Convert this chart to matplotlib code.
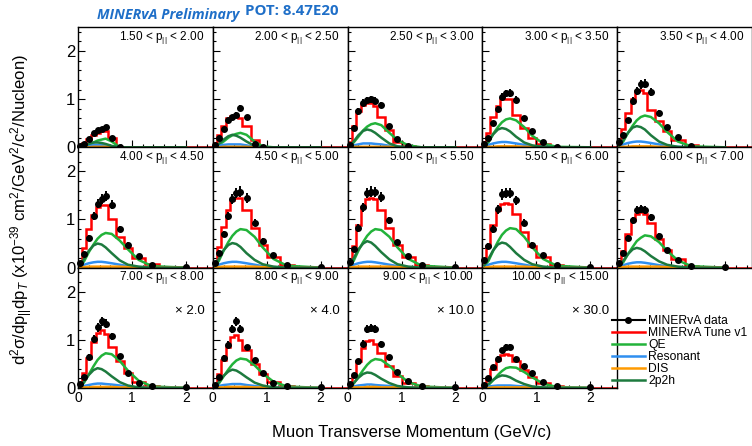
import matplotlib
matplotlib.use('Agg')
import matplotlib.pyplot as plt
from matplotlib.lines import Line2D
from matplotlib.ticker import MultipleLocator
import numpy as np

nan = np.nan

# muon pT bin edges (GeV/c)
pt_edges = [0, 0.075, 0.15, 0.25, 0.325, 0.4, 0.475, 0.55, 0.7, 0.85, 1.0, 1.25, 1.5, 2.5]

pz_labels = ["1.50", "2.00", "2.50", "3.00", "3.50", "4.00", "4.50", "5.00",
             "5.50", "6.00", "7.00", "8.00", "9.00", "10.00", "15.00"]
scale_labels = ["", "", "", "", "", "", "", "", "", "", "2.0", "4.0", "10.0", "30.0"]

data_vals = [
    [0.02, 0.07, 0.18, 0.29, 0.36, 0.38, 0.42, 0.20, 0.00, nan, nan, nan, nan],
    [0.04, 0.19, 0.38, 0.57, 0.63, 0.68, 0.82, 0.62, 0.06, 0.00, nan, nan, nan],
    [0.05, 0.40, 0.75, 0.93, 0.98, 1.00, 0.97, 0.88, 0.45, 0.18, 0.02, nan, nan],
    [0.07, 0.20, 0.50, 0.80, 1.05, 1.12, 1.13, 0.99, 0.60, 0.34, 0.12, 0.00, nan],
    [0.10, 0.26, 0.56, 0.96, 1.17, 1.31, 1.32, 1.15, 0.72, 0.42, 0.21, 0.03, nan],
    [0.10, 0.29, 0.62, 1.07, 1.33, 1.42, 1.49, 1.31, 0.81, 0.48, 0.24, 0.06, 0.02],
    [0.10, 0.31, 0.70, 1.07, 1.42, 1.55, 1.58, 1.45, 0.93, 0.55, 0.26, 0.06, 0.02],
    [0.12, 0.38, 0.82, 1.25, 1.55, 1.58, 1.57, 1.46, 0.98, 0.53, 0.24, 0.05, 0.02],
    [0.15, 0.45, 0.80, 1.21, 1.52, 1.55, 1.55, 1.40, 0.93, 0.48, 0.26, 0.06, 0.02],
    [0.10, 0.30, 0.62, 0.98, 1.19, 1.22, 1.20, 1.05, 0.66, 0.36, 0.16, 0.03, 0.02],
    [0.08, 0.23, 0.64, 1.01, 1.26, 1.38, 1.33, 1.07, 0.66, 0.31, 0.11, 0.03, 0.01],
    [0.06, 0.22, 0.62, 0.90, 1.22, 1.38, 1.22, 0.84, 0.57, 0.30, 0.10, 0.03, 0.01],
    [0.08, 0.27, 0.55, 0.92, 1.23, 1.25, 1.23, 0.92, 0.64, 0.33, 0.15, 0.03, 0.01],
    [0.05, 0.20, 0.43, 0.61, 0.78, 0.85, 0.86, 0.60, 0.45, 0.30, 0.12, 0.03, 0.01],
]

# relative data uncertainty per pT bin
rel_err = [0.30, 0.15, 0.10, 0.08, 0.07, 0.07, 0.07, 0.07, 0.08, 0.10, 0.15, 0.30, 0.50]

tune_vals = [
    [0.03, 0.08, 0.17, 0.26, 0.30, 0.33, 0.33, 0.20, 0.00, 0, 0, 0, 0],
    [0.08, 0.25, 0.45, 0.60, 0.65, 0.65, 0.60, 0.45, 0.15, 0.01, 0, 0, 0],
    [0.10, 0.45, 0.75, 0.88, 0.92, 0.92, 0.85, 0.62, 0.35, 0.12, 0.03, 0, 0],
    [0.10, 0.30, 0.62, 0.85, 1.00, 1.00, 1.00, 0.68, 0.40, 0.20, 0.06, 0.01, 0],
    [0.12, 0.38, 0.72, 1.00, 1.17, 1.20, 1.12, 0.78, 0.55, 0.33, 0.15, 0.04, 0],
    [0.12, 0.40, 0.80, 1.10, 1.25, 1.30, 1.30, 1.00, 0.64, 0.40, 0.19, 0.07, 0],
    [0.12, 0.42, 0.85, 1.20, 1.40, 1.45, 1.45, 1.20, 0.82, 0.48, 0.22, 0.06, 0],
    [0.13, 0.45, 0.88, 1.25, 1.42, 1.45, 1.42, 1.20, 0.82, 0.48, 0.22, 0.06, 0],
    [0.13, 0.45, 0.88, 1.20, 1.33, 1.35, 1.33, 1.12, 0.75, 0.45, 0.22, 0.06, 0],
    [0.10, 0.35, 0.70, 0.98, 1.12, 1.16, 1.12, 0.92, 0.60, 0.36, 0.17, 0.04, 0],
    [0.08, 0.30, 0.62, 0.95, 1.15, 1.20, 1.12, 0.85, 0.55, 0.30, 0.12, 0.03, 0],
    [0.07, 0.28, 0.58, 0.85, 1.05, 1.10, 1.00, 0.78, 0.50, 0.28, 0.12, 0.03, 0],
    [0.07, 0.25, 0.55, 0.82, 0.98, 1.00, 0.92, 0.72, 0.45, 0.25, 0.10, 0.03, 0],
    [0.05, 0.20, 0.40, 0.58, 0.68, 0.70, 0.68, 0.55, 0.38, 0.22, 0.10, 0.03, 0],
]

qe_vals = [
    [0.00, 0.02, 0.06, 0.10, 0.14, 0.16, 0.18, 0.12, 0.00, 0, 0, 0, 0],
    [0.01, 0.05, 0.12, 0.20, 0.25, 0.28, 0.30, 0.26, 0.12, 0.02, 0, 0, 0],
    [0.02, 0.10, 0.22, 0.35, 0.43, 0.48, 0.50, 0.46, 0.30, 0.15, 0.04, 0, 0],
    [0.02, 0.10, 0.28, 0.42, 0.52, 0.58, 0.60, 0.56, 0.42, 0.24, 0.08, 0.01, 0],
    [0.03, 0.12, 0.30, 0.45, 0.56, 0.63, 0.66, 0.63, 0.50, 0.32, 0.12, 0.02, 0],
    [0.03, 0.13, 0.32, 0.48, 0.60, 0.68, 0.72, 0.70, 0.56, 0.38, 0.16, 0.03, 0],
    [0.03, 0.14, 0.35, 0.53, 0.66, 0.75, 0.80, 0.78, 0.64, 0.42, 0.18, 0.04, 0],
    [0.03, 0.14, 0.35, 0.53, 0.66, 0.75, 0.80, 0.78, 0.64, 0.42, 0.18, 0.04, 0],
    [0.03, 0.14, 0.35, 0.54, 0.68, 0.77, 0.82, 0.80, 0.64, 0.42, 0.18, 0.04, 0],
    [0.03, 0.11, 0.28, 0.43, 0.55, 0.62, 0.67, 0.65, 0.53, 0.35, 0.15, 0.03, 0],
    [0.02, 0.11, 0.28, 0.45, 0.58, 0.67, 0.72, 0.70, 0.56, 0.36, 0.15, 0.03, 0],
    [0.02, 0.09, 0.24, 0.38, 0.49, 0.57, 0.61, 0.59, 0.47, 0.30, 0.13, 0.03, 0],
    [0.02, 0.09, 0.23, 0.37, 0.48, 0.56, 0.60, 0.58, 0.46, 0.30, 0.12, 0.03, 0],
    [0.01, 0.06, 0.16, 0.27, 0.35, 0.41, 0.43, 0.42, 0.33, 0.22, 0.09, 0.02, 0],
]

res_vals = [
    [0.01, 0.03, 0.04, 0.05, 0.05, 0.05, 0.04, 0.02, 0.00, 0, 0, 0, 0],
    [0.01, 0.04, 0.05, 0.06, 0.06, 0.06, 0.06, 0.04, 0.01, 0, 0, 0, 0],
    [0.01, 0.04, 0.06, 0.08, 0.08, 0.08, 0.07, 0.06, 0.03, 0.01, 0, 0, 0],
    [0.02, 0.05, 0.08, 0.10, 0.11, 0.11, 0.10, 0.08, 0.05, 0.02, 0.01, 0, 0],
    [0.02, 0.06, 0.09, 0.11, 0.12, 0.12, 0.11, 0.09, 0.06, 0.03, 0.01, 0, 0],
    [0.02, 0.06, 0.09, 0.11, 0.12, 0.12, 0.11, 0.09, 0.06, 0.03, 0.01, 0, 0],
    [0.02, 0.06, 0.09, 0.11, 0.12, 0.12, 0.11, 0.09, 0.06, 0.03, 0.01, 0, 0],
    [0.02, 0.06, 0.09, 0.11, 0.12, 0.12, 0.11, 0.09, 0.06, 0.03, 0.01, 0, 0],
    [0.02, 0.06, 0.09, 0.11, 0.12, 0.12, 0.11, 0.09, 0.06, 0.03, 0.01, 0, 0],
    [0.02, 0.05, 0.08, 0.10, 0.11, 0.11, 0.10, 0.08, 0.05, 0.03, 0.01, 0, 0],
    [0.01, 0.04, 0.06, 0.08, 0.09, 0.09, 0.08, 0.07, 0.05, 0.02, 0.01, 0, 0],
    [0.01, 0.04, 0.06, 0.07, 0.08, 0.08, 0.08, 0.06, 0.04, 0.02, 0.01, 0, 0],
    [0.01, 0.03, 0.05, 0.06, 0.07, 0.07, 0.06, 0.05, 0.04, 0.02, 0.01, 0, 0],
    [0.01, 0.03, 0.04, 0.05, 0.05, 0.05, 0.05, 0.04, 0.03, 0.02, 0.01, 0, 0],
]

dis_vals = [
    [0.00, 0.00, 0.00, 0.01, 0.01, 0.01, 0.01, 0.00, 0.00, 0, 0, 0, 0],
    [0.00, 0.00, 0.01, 0.01, 0.01, 0.01, 0.01, 0.01, 0.00, 0, 0, 0, 0],
    [0.00, 0.01, 0.01, 0.01, 0.01, 0.01, 0.01, 0.01, 0.01, 0.00, 0, 0, 0],
    [0.00, 0.01, 0.01, 0.02, 0.02, 0.02, 0.02, 0.02, 0.01, 0.01, 0, 0, 0],
    [0.00, 0.01, 0.01, 0.02, 0.02, 0.02, 0.02, 0.02, 0.01, 0.01, 0, 0, 0],
    [0.00, 0.01, 0.02, 0.02, 0.02, 0.02, 0.02, 0.02, 0.02, 0.01, 0.01, 0, 0],
    [0.00, 0.01, 0.02, 0.02, 0.02, 0.02, 0.02, 0.02, 0.02, 0.01, 0.01, 0, 0],
    [0.00, 0.01, 0.02, 0.02, 0.02, 0.02, 0.02, 0.02, 0.02, 0.01, 0.01, 0, 0],
    [0.00, 0.01, 0.02, 0.02, 0.02, 0.02, 0.02, 0.02, 0.02, 0.01, 0.01, 0, 0],
    [0.00, 0.01, 0.02, 0.02, 0.02, 0.02, 0.02, 0.02, 0.02, 0.01, 0.01, 0, 0],
    [0.00, 0.01, 0.01, 0.02, 0.02, 0.02, 0.02, 0.02, 0.01, 0.01, 0.00, 0, 0],
    [0.00, 0.01, 0.01, 0.02, 0.02, 0.02, 0.02, 0.02, 0.01, 0.01, 0.00, 0, 0],
    [0.00, 0.01, 0.01, 0.01, 0.02, 0.02, 0.02, 0.01, 0.01, 0.01, 0.00, 0, 0],
    [0.00, 0.00, 0.01, 0.01, 0.01, 0.01, 0.01, 0.01, 0.01, 0.00, 0.00, 0, 0],
]

mec_vals = [
    [0.01, 0.03, 0.07, 0.10, 0.10, 0.09, 0.07, 0.03, 0.00, 0, 0, 0, 0],
    [0.02, 0.07, 0.16, 0.23, 0.26, 0.24, 0.20, 0.12, 0.03, 0, 0, 0, 0],
    [0.03, 0.12, 0.25, 0.34, 0.37, 0.35, 0.30, 0.20, 0.08, 0.02, 0, 0, 0],
    [0.03, 0.12, 0.27, 0.37, 0.40, 0.38, 0.33, 0.22, 0.10, 0.04, 0.01, 0, 0],
    [0.04, 0.15, 0.30, 0.41, 0.44, 0.42, 0.37, 0.25, 0.12, 0.05, 0.01, 0, 0],
    [0.05, 0.18, 0.35, 0.46, 0.50, 0.48, 0.42, 0.30, 0.15, 0.06, 0.02, 0, 0],
    [0.05, 0.18, 0.36, 0.47, 0.51, 0.49, 0.43, 0.30, 0.16, 0.07, 0.02, 0, 0],
    [0.05, 0.19, 0.38, 0.50, 0.55, 0.52, 0.45, 0.32, 0.17, 0.07, 0.02, 0, 0],
    [0.05, 0.18, 0.36, 0.48, 0.52, 0.50, 0.43, 0.30, 0.16, 0.07, 0.02, 0, 0],
    [0.04, 0.14, 0.28, 0.38, 0.41, 0.39, 0.34, 0.24, 0.13, 0.06, 0.02, 0, 0],
    [0.03, 0.13, 0.27, 0.37, 0.41, 0.39, 0.34, 0.24, 0.12, 0.05, 0.01, 0, 0],
    [0.03, 0.12, 0.25, 0.34, 0.38, 0.36, 0.31, 0.22, 0.11, 0.05, 0.01, 0, 0],
    [0.03, 0.10, 0.21, 0.29, 0.32, 0.31, 0.27, 0.19, 0.10, 0.04, 0.01, 0, 0],
    [0.02, 0.08, 0.17, 0.23, 0.26, 0.25, 0.22, 0.15, 0.08, 0.03, 0.01, 0, 0],
]

c_tune = '#ff0000'
c_qe = '#22b33a'
c_res = '#2f8ff0'
c_dis = '#ff9a00'
c_mec = '#1d7a3e'

plt.rcParams['font.family'] = ['Liberation Sans', 'DejaVu Sans']
plt.rcParams['mathtext.fontset'] = 'custom'
plt.rcParams['mathtext.rm'] = 'Liberation Sans'
plt.rcParams['mathtext.it'] = 'Liberation Sans:italic'

W, H = 752, 446
fig = plt.figure(figsize=(W / 100, H / 100), dpi=100)

x0, y0 = 78, 27
pw, ph = 134.8, 120.3
centers = [(pt_edges[i] + pt_edges[i + 1]) / 2 for i in range(len(pt_edges) - 1)]

for i in range(14):
    r, c = divmod(i, 5)
    ax = fig.add_axes([(x0 + c * pw) / W, 1 - (y0 + (r + 1) * ph) / H, pw / W, ph / H])
    ax.stairs(tune_vals[i], pt_edges, color=c_tune, lw=1.8, baseline=0)
    ax.plot(centers, qe_vals[i], color=c_qe, lw=1.8)
    ax.plot(centers, res_vals[i], color=c_res, lw=1.8)
    ax.plot(centers, dis_vals[i], color=c_dis, lw=1.8)
    ax.plot(centers, mec_vals[i], color=c_mec, lw=1.8)
    d = np.array(data_vals[i])
    ax.errorbar(centers, d, yerr=d * np.array(rel_err), fmt='o', color='k',
                ms=4, elinewidth=1.4, capsize=0, zorder=5, clip_on=False)

    ax.set_xlim(0, 2.5)
    ax.set_ylim(0, 2.5)
    ax.xaxis.set_major_locator(MultipleLocator(1))
    ax.xaxis.set_minor_locator(MultipleLocator(0.2))
    ax.yaxis.set_major_locator(MultipleLocator(1))
    ax.yaxis.set_minor_locator(MultipleLocator(0.2))
    ax.tick_params(which='both', direction='in', top=False, right=False, width=0.8)
    ax.tick_params(which='major', length=5)
    ax.tick_params(which='minor', length=2.5)
    ax.tick_params(axis='y', labelsize=12, pad=2)
    ax.tick_params(axis='x', labelsize=10, pad=2)
    for s in ax.spines.values():
        s.set_linewidth(1.0)
    if c != 0:
        ax.set_yticklabels([])
    if r != 2:
        ax.set_xticklabels([])

    ax.text(0.94, 0.985, r"%s < $\mathregular{p_{||}}$ < %s" % (pz_labels[i], pz_labels[i + 1]),
            transform=ax.transAxes, ha='right', va='top', fontsize=8.5)
    if scale_labels[i]:
        ax.text(0.94, 0.64, "\u00d7 " + scale_labels[i], transform=ax.transAxes,
                ha='right', va='center', fontsize=9.5)

fig.text(97 / W, 1 - 15 / H, "MINERvA Preliminary", color='#1f6fc8', fontsize=10.3,
         fontweight='bold', style='italic', family='Open Sans', va='center', ha='left')
fig.text(245 / W, 1 - 11 / H, "POT: 8.47E20", color='#1f6fc8', fontsize=10.8,
         fontweight='bold', family='Open Sans', va='center', ha='left')

fig.text(22 / W, 1 - 210 / H,
         r"d$^{2}$$\mathregular{\sigma}$/dp$_{||}$dp$_{T}$ (x10$^{-39}$ cm$^{2}$/GeV$^{2}$/c$^{2}$/Nucleon)",
         rotation=90, ha='center', va='center', fontsize=12)
fig.text(412 / W, 1 - 433 / H, "Muon Transverse Momentum (GeV/c)",
         ha='center', va='center', fontsize=12)

handles = [
    Line2D([], [], color='k', marker='o', ms=4, lw=1.5),
    Line2D([], [], color=c_tune, lw=1.8),
    Line2D([], [], color=c_qe, lw=1.8),
    Line2D([], [], color=c_res, lw=1.8),
    Line2D([], [], color=c_dis, lw=1.8),
    Line2D([], [], color=c_mec, lw=1.8),
]
labels = ["MINERvA data", "MINERvA Tune v1", "QE", "Resonant", "DIS", "2p2h"]
fig.legend(handles, labels, loc='upper left', bbox_to_anchor=(612 / W, 1 - 315 / H),
           frameon=False, fontsize=8.7, labelspacing=0.0, handlelength=2.7, numpoints=1,
           handletextpad=0.3, borderpad=0, borderaxespad=0)

fig.savefig('out.png', dpi=100)
